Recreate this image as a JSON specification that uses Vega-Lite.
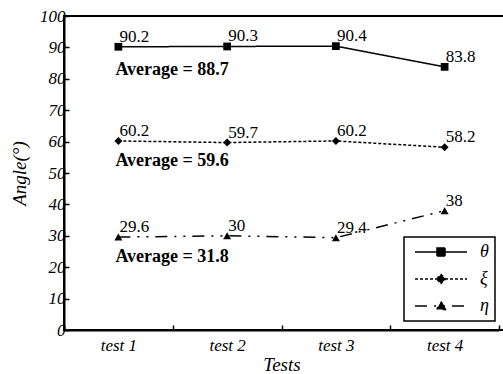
{
  "$schema": "https://vega.github.io/schema/vega-lite/v6.json",
  "width": 440,
  "height": 314,
  "autosize": {"type": "none"},
  "padding": {"left": 64, "top": 16, "right": 0, "bottom": 44},
  "background": "white",
  "config": {
    "view": {"stroke": "black", "strokeWidth": 2},
    "font": "Liberation Serif",
    "text": {"font": "Liberation Serif"},
    "legend": {"labelFont": "Liberation Serif"},
    "axis": {"labelFont": "Liberation Serif", "titleFont": "Liberation Serif", "domainColor": "black", "domainWidth": 2, "tickColor": "black", "tickWidth": 1.5, "labelColor": "black", "titleColor": "black", "grid": false},
    "axisY": {"labelOverlap": false}
  },
  "datasets": {
    "pts": [
      {"test": "test 1", "series": "θ", "value": 90.2},
      {"test": "test 2", "series": "θ", "value": 90.3},
      {"test": "test 3", "series": "θ", "value": 90.4},
      {"test": "test 4", "series": "θ", "value": 83.8},
      {"test": "test 1", "series": "ξ", "value": 60.2},
      {"test": "test 2", "series": "ξ", "value": 59.7},
      {"test": "test 3", "series": "ξ", "value": 60.2},
      {"test": "test 4", "series": "ξ", "value": 58.2},
      {"test": "test 1", "series": "η", "value": 29.6},
      {"test": "test 2", "series": "η", "value": 30},
      {"test": "test 3", "series": "η", "value": 29.4},
      {"test": "test 4", "series": "η", "value": 38}
    ],
    "avg": [
      {"test": "test 1", "label": "Average = 88.7", "value": 81.2},
      {"test": "test 1", "label": "Average = 59.6", "value": 52.3},
      {"test": "test 1", "label": "Average = 31.8", "value": 21.6}
    ]
  },
  "data": {"name": "pts"},
  "encoding": {
    "x": {
      "field": "test", "type": "nominal",
      "scale": {"type": "band", "paddingInner": 0, "paddingOuter": 0, "range": [0, 435]},
      "axis": {
        "title": "Tests", "tickBand": "extent", "labelAngle": 0,
        "labelFontStyle": "italic", "labelFontSize": 17, "labelPadding": 12, "tickSize": -5,
        "titleFontStyle": "italic", "titleFontWeight": "normal", "titleFontSize": 19, "titlePadding": 2
      }
    },
    "y": {
      "field": "value", "type": "quantitative",
      "scale": {"domain": [0, 100], "nice": false},
      "axis": {
        "title": "Angle(°)", "values": [0, 10, 20, 30, 40, 50, 60, 70, 80, 90, 100],
        "labelOverlap": false,
        "tickSize": -5, "labelFontStyle": "italic", "labelFontSize": 17, "labelPadding": 4,
        "titleFontStyle": "italic", "titleFontWeight": "normal", "titleFontSize": 19, "titlePadding": 10
      }
    }
  },
  "layer": [
    {
      "mark": {"type": "line", "color": "black", "strokeWidth": 1.5},
      "encoding": {
        "strokeDash": {
          "field": "series", "type": "nominal",
          "scale": {"domain": ["θ", "ξ", "η"], "range": [[1, 0], [3, 2], [12, 7, 2, 7, 2, 7]]},
          "legend": {
            "title": null, "orient": "none", "legendX": 340, "legendY": 221,
            "strokeColor": "black", "fillColor": "white", "padding": 6,
            "symbolSize": 100, "symbolStrokeWidth": 1.5, "symbolStrokeColor": "black", "symbolFillColor": "black",
            "symbolOffset": 22, "labelOffset": 30, "rowPadding": 9,
            "labelFontSize": 18, "labelFontStyle": "italic", "labelColor": "black",
            "encode": {
              "legend": {"update": {"strokeWidth": {"value": 1.5}}},
              "symbols": {
                "update": {
                  "shape": {"signal": "datum.value === 'θ' ? 'M-5.2,0L5.2,0M-0.8,-0.8L0.8,-0.8L0.8,0.8L-0.8,0.8Z' : datum.value === 'ξ' ? 'M-5.2,0L5.2,0M0,-0.9L0.9,0L0,0.9L-0.9,0Z' : 'M-5.2,0L5.2,0M0,-0.9L0.9,0.7L-0.9,0.7Z'"},
                  "fill": {"value": "black"},
                  "stroke": {"value": "black"}
                }
              }
            }
          }
        }
      }
    },
    {
      "transform": [{"filter": "datum.series === 'θ'"}],
      "mark": {"type": "point", "shape": "square", "filled": true, "color": "black", "opacity": 1, "size": 60}
    },
    {
      "transform": [{"filter": "datum.series === 'ξ'"}],
      "mark": {"type": "point", "shape": "diamond", "filled": true, "color": "black", "opacity": 1, "size": 64}
    },
    {
      "transform": [{"filter": "datum.series === 'η'"}],
      "mark": {"type": "point", "shape": "triangle-up", "filled": true, "color": "black", "opacity": 1, "size": 64}
    },
    {
      "mark": {"type": "text", "font": "Liberation Serif", "align": "left", "baseline": "alphabetic", "dx": 1, "dy": -5, "fontSize": 17, "color": "black"},
      "encoding": {
        "text": {"field": "value", "type": "nominal"}
      }
    },
    {
      "data": {"name": "avg"},
      "mark": {"type": "text", "font": "Liberation Serif", "align": "left", "baseline": "alphabetic", "dx": -3, "fontSize": 18, "fontWeight": "bold", "color": "black"},
      "encoding": {
        "text": {"field": "label", "type": "nominal"}
      }
    }
  ]
}
